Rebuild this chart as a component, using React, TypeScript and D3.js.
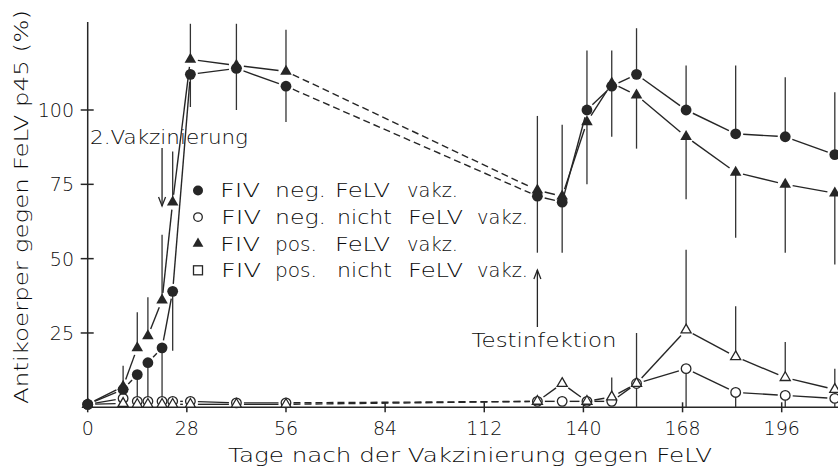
import React from 'react';
import * as d3 from 'd3';

// ---- data ----
const DAYS = [0, 10, 14, 17, 21, 24, 29, 42, 56, 127, 134, 141, 148, 155, 169, 183, 197, 211];

// FIV neg. FeLV vakz. (filled circle)
const NEG_VAK = [1, 6, 11, 15, 20, 39, 112, 114, 108, 71, 69, 100, 108, 112, 100, 92, 91, 85];
const NEG_VAK_UP = [0, 0, 0, 0, 0, 0, 0, 0, 0, 0, 0, 20, 12, 15.5, 15, 23, 20, 21];
const NEG_VAK_DOWN = [0, 6, 11, 15, 20, 20, 11, 14, 12, 19, 17, 0, 0, 0, 0, 0, 0, 0];

// FIV pos. FeLV vakz. (filled triangle)
const POS_VAK = [1, 7, 20, 24, 36, 69, 117, 115, 113, 73, 71, 96, 109, 105, 91, 79, 75, 72];
const POS_VAK_UP = [0, 7, 12, 13, 22, 17, 12, 14, 14, 25, 24, 0, 0, 0, 0, 0, 0, 0];
const POS_VAK_DOWN = [0, 0, 0, 0, 0, 0, 0, 0, 0, 0, 0, 21, 18, 18, 21, 22, 23, 24];

// FIV neg. nicht FeLV vakz. (open circle)
const NEG_NON = [1, 3, 2, 2, 2, 2, 2, 1.5, 1.5, 2, 2, 2, 2, 8, 13, 5, 4, 3];
const NEG_NON_UP = [0, 0, 0, 0, 0, 0, 0, 0, 0, 0, 0, 0, 0, 0, 0, 0, 0, 0];
const NEG_NON_DOWN = [0, 0, 0, 0, 0, 0, 0, 0, 0, 0, 0, 0, 0, 8, 13, 5, 4, 3];

// FIV pos. nicht FeLV vakz. (open triangle in plot)
const POS_NON = [1, 1.3, 1, 1, 1, 1, 1, 1, 1, 2, 8, 2, 3.5, 8, 26, 17, 10, 6];
const POS_NON_UP = [0, 0, 0, 0, 0, 0, 0, 0, 0, 0, 0, 0, 6.5, 17, 27, 17, 12, 7];
const POS_NON_DOWN = [0, 0, 0, 0, 0, 0, 0, 0, 0, 0, 0, 0, 0, 0, 0, 0, 0, 0];

const X_TICKS = [0, 28, 56, 84, 112, 140, 168, 196];
const Y_TICKS = [25, 50, 75, 100];
const LEGEND_LABELS = [
  'FIV neg. FeLV vakz.',
  'FIV neg. nicht FeLV vakz.',
  'FIV pos. FeLV vakz.',
  'FIV pos. nicht FeLV vakz.',
];
const DASH_START_DAY = 56;
const VACC2_DAY = 21;
const INFECTION_DAY = 127;
const X_TITLE = 'Tage nach der Vakzinierung gegen FeLV';
const Y_TITLE = 'Antikoerper gegen FeLV p45 (%)';

// ---- layout ----
const W = 838;
const H = 468;
const INK = '#262626';
const TEXT_INK = '#0a0a0a';
const FONT = 'DejaVu Sans';

const x = d3.scaleLinear().domain([0, 196]).range([87.7, 781.7]);
const y = d3.scaleLinear().domain([0, 100]).range([407.3, 110]);

type Marker = 'fc' | 'oc' | 'ft' | 'ot';
interface Series { vals: number[]; up: number[]; down: number[]; marker: Marker; }

const SERIES: Series[] = [
  { vals: NEG_NON, up: NEG_NON_UP, down: NEG_NON_DOWN, marker: 'oc' },
  { vals: POS_NON, up: POS_NON_UP, down: POS_NON_DOWN, marker: 'ot' },
  { vals: POS_VAK, up: POS_VAK_UP, down: POS_VAK_DOWN, marker: 'ft' },
  { vals: NEG_VAK, up: NEG_VAK_UP, down: NEG_VAK_DOWN, marker: 'fc' },
];

const triPath = (s: number) => d3.symbol().type(d3.symbolTriangle).size(s)() as string;

function MarkerShape({ m, cx, cy }: { m: Marker; cx: number; cy: number }) {
  if (m === 'fc') return <circle cx={cx} cy={cy} r={5.4} fill={INK} />;
  if (m === 'oc') return <circle cx={cx} cy={cy} r={4.8} fill="#fff" stroke={INK} strokeWidth={1.3} />;
  if (m === 'ft') return <path d={triPath(58)} transform={`translate(${cx},${cy})`} fill={INK} />;
  return <path d={triPath(44)} transform={`translate(${cx},${cy})`} fill="#fff" stroke={INK} strokeWidth={1.3} />;
}

function shortSeg(x1: number, y1: number, x2: number, y2: number, g: number) {
  const dx = x2 - x1, dy = y2 - y1;
  const L = Math.hypot(dx, dy);
  if (L <= 2 * g + 1) return null;
  const ux = dx / L, uy = dy / L;
  return [x1 + ux * g, y1 + uy * g, x2 - ux * g, y2 - uy * g];
}

function Arrow({ x0, y0, y1 }: { x0: number; y0: number; y1: number }) {
  const dir = y1 > y0 ? 1 : -1;
  return (
    <g stroke={INK} strokeWidth={1.3} fill="none">
      <line x1={x0} y1={y0} x2={x0} y2={y1} />
      <polyline points={`${x0 - 3.5},${y1 - dir * 9} ${x0},${y1} ${x0 + 3.5},${y1 - dir * 9}`} />
    </g>
  );
}

const LEGEND_WORD_W: Record<string, number> = {
  FIV: 40, 'neg.': 51, 'pos.': 42, nicht: 55, FeLV: 55, 'vakz.': 51,
};

export default function App() {
  const gap = 7.5;
  return (
    <svg width={W} height={H} style={{ position: 'absolute', left: 0, top: 0, background: '#fff' }}
      fontFamily={FONT} fontWeight={300} fill={TEXT_INK}>
      <rect x={0} y={0} width={W} height={H} fill="#fff" />
      {/* axes */}
      <g stroke={INK} strokeWidth={1.5}>
        <line x1={x(0)} y1={y(0)} x2={W} y2={y(0)} />
        <line x1={x(0)} y1={y(0)} x2={x(0)} y2={22} />
        {X_TICKS.map(t => <line key={t} x1={x(t)} x2={x(t)} y1={y(0) - 5} y2={y(0) + 5} />)}
        {Y_TICKS.map(t => <line key={t} x1={x(0) - 7} x2={x(0) + 6} y1={y(t)} y2={y(t)} />)}
      </g>
      {X_TICKS.map(t => (
        <text key={t} x={x(t)} y={435} textAnchor="middle" fontSize={19} stroke="none">{t}</text>
      ))}
      {Y_TICKS.map(t => (
        <text key={t} x={74} y={y(t) + 7} textAnchor="end" fontSize={19} stroke="none">{t}</text>
      ))}
      <text x={228} y={462} fontSize={19} textLength={484} lengthAdjust="spacingAndGlyphs">{X_TITLE}</text>
      <text transform="translate(28,404) rotate(-90)" fontSize={19} textLength={394}
        lengthAdjust="spacingAndGlyphs">{Y_TITLE}</text>

      {/* error bars */}
      <g stroke="#333" strokeWidth={1.3}>
        {SERIES.map((s, si) => DAYS.map((d, i) => (
          <g key={`${si}-${i}`}>
            {s.up[i] > 0 && <line x1={x(d)} x2={x(d)} y1={y(s.vals[i])} y2={y(s.vals[i] + s.up[i])} />}
            {s.down[i] > 0 && <line x1={x(d)} x2={x(d)} y1={y(s.vals[i])} y2={y(s.vals[i] - s.down[i])} />}
          </g>
        )))}
      </g>

      {/* connecting lines with gaps at markers */}
      <g stroke={INK} strokeWidth={1.4} fill="none">
        {SERIES.map((s, si) => DAYS.slice(1).map((d, j) => {
          const i = j + 1;
          const seg = shortSeg(x(DAYS[i - 1]), y(s.vals[i - 1]), x(d), y(s.vals[i]), gap);
          if (!seg) return null;
          const dashed = DAYS[i - 1] === DASH_START_DAY;
          return <line key={`${si}-${i}`} x1={seg[0]} y1={seg[1]} x2={seg[2]} y2={seg[3]}
            strokeDasharray={dashed ? '7,4' : undefined} />;
        }))}
      </g>

      {/* markers */}
      {SERIES.map((s, si) => DAYS.map((d, i) => (
        <MarkerShape key={`${si}-${i}`} m={s.marker} cx={x(d)} cy={y(s.vals[i])} />
      )))}

      {/* annotations */}
      <text x={90} y={144} fontSize={19} textLength={158} lengthAdjust="spacingAndGlyphs">2.Vakzinierung</text>
      <Arrow x0={x(VACC2_DAY)} y0={148} y1={206} />
      <text x={471.5} y={347} fontSize={19} textLength={145} lengthAdjust="spacingAndGlyphs">Testinfektion</text>
      <Arrow x0={x(INFECTION_DAY)} y0={327} y1={270} />

      {/* legend */}
      {LEGEND_LABELS.map((lab, r) => {
        const cy = 190.5 + r * 26.6;
        const words = lab.split(' ');
        const starts = words.length === 4 ? [220, 275, 335, 407] : [221, 275, 337, 408, 477];
        return (
          <g key={lab}>
            {r === 0 && <circle cx={198} cy={cy} r={5} fill={INK} />}
            {r === 1 && <circle cx={198} cy={cy} r={4.3} fill="#fff" stroke={INK} strokeWidth={1.3} />}
            {r === 2 && <path d={triPath(50)} transform={`translate(198,${cy})`} fill={INK} />}
            {r === 3 && <rect x={193.5} y={cy - 4.5} width={9} height={9} fill="#fff" stroke={INK} strokeWidth={1.3} />}
            {words.map((w, k) => (
              <text key={k} x={starts[k]} y={cy + 6.8} fontSize={19} textLength={LEGEND_WORD_W[w]}
                lengthAdjust="spacingAndGlyphs">{w}</text>
            ))}
          </g>
        );
      })}
    </svg>
  );
}
